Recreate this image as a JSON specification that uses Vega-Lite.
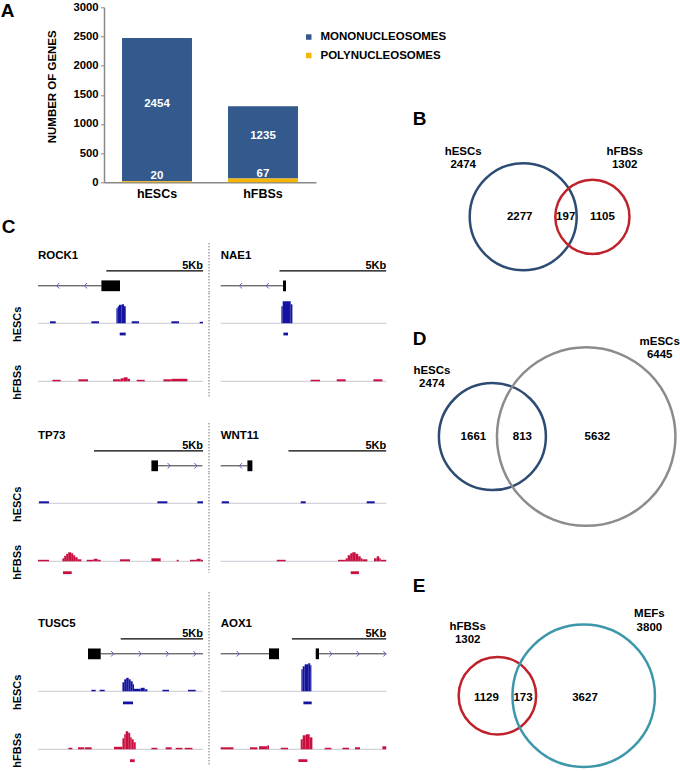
{
"$schema":"https://vega.github.io/schema/vega-lite/v6.json",
"padding":{"left":0,"top":1.3,"right":0,"bottom":0},
"config":{"font":"Liberation Sans","view":{"stroke":null}},
"datasets":{
"panels":[{"panel":"A"},{"panel":"B"},{"panel":"C"},{"panel":"D"},{"panel":"E"}],
"bars":[{"cell":"hESCs","type":"MONONUCLEOSOMES","n":2454},{"cell":"hESCs","type":"POLYNUCLEOSOMES","n":20},{"cell":"hFBSs","type":"MONONUCLEOSOMES","n":1235},{"cell":"hFBSs","type":"POLYNUCLEOSOMES","n":67}],
"genes":[{"gene":"ROCK1"},{"gene":"NAE1"},{"gene":"TP73"},{"gene":"WNT11"},{"gene":"TUSC5"},{"gene":"AOX1"}],
"model":[
{"gene":"ROCK1","feature":"intron","start":0,"end":3.278},{"gene":"ROCK1","feature":"exon","start":3.278,"end":4.24},
{"gene":"NAE1","feature":"intron","start":0,"end":2.966},{"gene":"NAE1","feature":"exon","start":2.92,"end":3.06},
{"gene":"TP73","feature":"exon","start":5.202,"end":5.504},{"gene":"TP73","feature":"intron","start":5.504,"end":7.541},
{"gene":"WNT11","feature":"intron","start":0,"end":1.367},{"gene":"WNT11","feature":"exon","start":1.367,"end":1.622},
{"gene":"TUSC5","feature":"exon","start":3.038,"end":3.809},{"gene":"TUSC5","feature":"intron","start":3.809,"end":10.024},
{"gene":"AOX1","feature":"intron","start":0,"end":2.561},{"gene":"AOX1","feature":"exon","start":2.561,"end":3.091},{"gene":"AOX1","feature":"exon","start":5.037,"end":5.212},{"gene":"AOX1","feature":"intron","start":5.212,"end":8.775}],
"arrows":[
{"gene":"ROCK1","pos":1.034,"strand":"-"},{"gene":"ROCK1","pos":2.467,"strand":"-"},
{"gene":"NAE1","pos":0.937,"strand":"-"},{"gene":"NAE1","pos":2.188,"strand":"-"},
{"gene":"TP73","pos":6.009,"strand":"+"},{"gene":"TP73","pos":7.234,"strand":"+"},
{"gene":"WNT11","pos":1.024,"strand":"-"},
{"gene":"TUSC5","pos":4.52,"strand":"+"},{"gene":"TUSC5","pos":6.197,"strand":"+"},{"gene":"TUSC5","pos":7.861,"strand":"+"},{"gene":"TUSC5","pos":9.52,"strand":"+"},
{"gene":"AOX1","pos":0.917,"strand":"+"},{"gene":"AOX1","pos":5.832,"strand":"+"},{"gene":"AOX1","pos":7.28,"strand":"+"},{"gene":"AOX1","pos":8.695,"strand":"+"}],
"signal":[
{"gene":"ROCK1","cell":"hESCs","start":0.62,"end":0.915,"v":2},{"gene":"ROCK1","cell":"hESCs","start":2.761,"end":3.154,"v":2},{"gene":"ROCK1","cell":"hESCs","start":4.054,"end":4.121,"v":15},{"gene":"ROCK1","cell":"hESCs","start":4.121,"end":4.189,"v":17},{"gene":"ROCK1","cell":"hESCs","start":4.189,"end":4.328,"v":18.5},{"gene":"ROCK1","cell":"hESCs","start":4.328,"end":4.447,"v":19},{"gene":"ROCK1","cell":"hESCs","start":4.447,"end":4.535,"v":17},{"gene":"ROCK1","cell":"hESCs","start":4.845,"end":5.223,"v":2},{"gene":"ROCK1","cell":"hESCs","start":6.898,"end":7.291,"v":2},{"gene":"ROCK1","cell":"hESCs","start":8.361,"end":8.532,"v":1.5},
{"gene":"ROCK1","cell":"hFBSs","start":0.745,"end":1.174,"v":1.5},{"gene":"ROCK1","cell":"hFBSs","start":2.089,"end":2.586,"v":2},{"gene":"ROCK1","cell":"hFBSs","start":3.878,"end":4.276,"v":2},{"gene":"ROCK1","cell":"hFBSs","start":4.276,"end":4.432,"v":3},{"gene":"ROCK1","cell":"hFBSs","start":4.432,"end":4.638,"v":4},{"gene":"ROCK1","cell":"hFBSs","start":4.638,"end":4.757,"v":2.5},{"gene":"ROCK1","cell":"hFBSs","start":5.104,"end":5.518,"v":1.5},{"gene":"ROCK1","cell":"hFBSs","start":6.484,"end":6.898,"v":2},{"gene":"ROCK1","cell":"hFBSs","start":6.898,"end":7.725,"v":2.5},
{"gene":"NAE1","cell":"hESCs","start":2.844,"end":2.905,"v":17},{"gene":"NAE1","cell":"hESCs","start":2.905,"end":3.28,"v":22},{"gene":"NAE1","cell":"hESCs","start":3.28,"end":3.36,"v":19},
{"gene":"NAE1","cell":"hFBSs","start":4.217,"end":4.653,"v":1.5},{"gene":"NAE1","cell":"hFBSs","start":5.436,"end":5.858,"v":2},{"gene":"NAE1","cell":"hFBSs","start":7.156,"end":7.577,"v":2},
{"gene":"TP73","cell":"hESCs","start":0.046,"end":0.505,"v":2},{"gene":"TP73","cell":"hESCs","start":5.477,"end":5.936,"v":2},{"gene":"TP73","cell":"hESCs","start":7.312,"end":7.569,"v":2},
{"gene":"TP73","cell":"hFBSs","start":0,"end":0.505,"v":1.5},{"gene":"TP73","cell":"hFBSs","start":1.119,"end":1.202,"v":3},{"gene":"TP73","cell":"hFBSs","start":1.202,"end":1.294,"v":5.5},{"gene":"TP73","cell":"hFBSs","start":1.294,"end":1.385,"v":7.5},{"gene":"TP73","cell":"hFBSs","start":1.385,"end":1.523,"v":9},{"gene":"TP73","cell":"hFBSs","start":1.523,"end":1.615,"v":8},{"gene":"TP73","cell":"hFBSs","start":1.615,"end":1.706,"v":6},{"gene":"TP73","cell":"hFBSs","start":1.706,"end":1.821,"v":4},{"gene":"TP73","cell":"hFBSs","start":1.821,"end":1.991,"v":2},{"gene":"TP73","cell":"hFBSs","start":2.234,"end":2.555,"v":1.5},{"gene":"TP73","cell":"hFBSs","start":2.555,"end":2.738,"v":2.5},{"gene":"TP73","cell":"hFBSs","start":2.738,"end":2.876,"v":1.5},{"gene":"TP73","cell":"hFBSs","start":3.761,"end":4.22,"v":2},{"gene":"TP73","cell":"hFBSs","start":5.202,"end":5.628,"v":3},{"gene":"TP73","cell":"hFBSs","start":6.362,"end":6.454,"v":1.5},{"gene":"TP73","cell":"hFBSs","start":6.972,"end":7.28,"v":1.5},{"gene":"TP73","cell":"hFBSs","start":7.28,"end":7.463,"v":2.5},{"gene":"TP73","cell":"hFBSs","start":7.463,"end":7.569,"v":1.5},
{"gene":"WNT11","cell":"hESCs","start":0.051,"end":0.425,"v":2},{"gene":"WNT11","cell":"hESCs","start":4.094,"end":4.35,"v":2},{"gene":"WNT11","cell":"hESCs","start":7.472,"end":7.882,"v":2},
{"gene":"WNT11","cell":"hFBSs","start":2.866,"end":3.327,"v":1.5},{"gene":"WNT11","cell":"hFBSs","start":6.003,"end":6.398,"v":1.5},{"gene":"WNT11","cell":"hFBSs","start":6.398,"end":6.5,"v":3},{"gene":"WNT11","cell":"hFBSs","start":6.5,"end":6.628,"v":6},{"gene":"WNT11","cell":"hFBSs","start":6.628,"end":6.73,"v":8},{"gene":"WNT11","cell":"hFBSs","start":6.73,"end":6.909,"v":9},{"gene":"WNT11","cell":"hFBSs","start":6.909,"end":7.037,"v":7.5},{"gene":"WNT11","cell":"hFBSs","start":7.037,"end":7.165,"v":5},{"gene":"WNT11","cell":"hFBSs","start":7.165,"end":7.252,"v":3},{"gene":"WNT11","cell":"hFBSs","start":7.252,"end":7.508,"v":2},{"gene":"WNT11","cell":"hFBSs","start":7.846,"end":7.984,"v":3},{"gene":"WNT11","cell":"hFBSs","start":7.984,"end":8.112,"v":5},{"gene":"WNT11","cell":"hFBSs","start":8.112,"end":8.189,"v":3},{"gene":"WNT11","cell":"hFBSs","start":8.189,"end":8.47,"v":1.5},
{"gene":"TUSC5","cell":"hESCs","start":3.244,"end":3.505,"v":1.5},{"gene":"TUSC5","cell":"hESCs","start":3.748,"end":4.052,"v":1.5},{"gene":"TUSC5","cell":"hESCs","start":5.127,"end":5.237,"v":9},{"gene":"TUSC5","cell":"hESCs","start":5.237,"end":5.358,"v":12},{"gene":"TUSC5","cell":"hESCs","start":5.358,"end":5.51,"v":13.5},{"gene":"TUSC5","cell":"hESCs","start":5.51,"end":5.632,"v":12},{"gene":"TUSC5","cell":"hESCs","start":5.632,"end":5.753,"v":10},{"gene":"TUSC5","cell":"hESCs","start":5.753,"end":5.832,"v":7},{"gene":"TUSC5","cell":"hESCs","start":5.832,"end":6.239,"v":2.5},{"gene":"TUSC5","cell":"hESCs","start":6.239,"end":6.482,"v":3.5},{"gene":"TUSC5","cell":"hESCs","start":6.482,"end":6.646,"v":2},{"gene":"TUSC5","cell":"hESCs","start":7.557,"end":7.958,"v":1.5},{"gene":"TUSC5","cell":"hESCs","start":9.113,"end":9.58,"v":1.5},
{"gene":"TUSC5","cell":"hFBSs","start":1.847,"end":2.09,"v":1.5},{"gene":"TUSC5","cell":"hFBSs","start":2.43,"end":2.795,"v":2},{"gene":"TUSC5","cell":"hFBSs","start":2.837,"end":3.262,"v":2},{"gene":"TUSC5","cell":"hFBSs","start":4.617,"end":5.127,"v":2.5},{"gene":"TUSC5","cell":"hFBSs","start":5.127,"end":5.237,"v":11},{"gene":"TUSC5","cell":"hFBSs","start":5.237,"end":5.328,"v":15},{"gene":"TUSC5","cell":"hFBSs","start":5.328,"end":5.48,"v":18},{"gene":"TUSC5","cell":"hFBSs","start":5.48,"end":5.601,"v":16.5},{"gene":"TUSC5","cell":"hFBSs","start":5.601,"end":5.692,"v":12},{"gene":"TUSC5","cell":"hFBSs","start":5.692,"end":5.814,"v":10},{"gene":"TUSC5","cell":"hFBSs","start":5.814,"end":5.935,"v":7},{"gene":"TUSC5","cell":"hFBSs","start":6.889,"end":7.254,"v":1.5},{"gene":"TUSC5","cell":"hFBSs","start":7.758,"end":8.122,"v":2},{"gene":"TUSC5","cell":"hFBSs","start":8.365,"end":8.772,"v":1.5},{"gene":"TUSC5","cell":"hFBSs","start":8.912,"end":9.38,"v":1.5},
{"gene":"AOX1","cell":"hESCs","start":4.279,"end":4.348,"v":22},{"gene":"AOX1","cell":"hESCs","start":4.348,"end":4.454,"v":25},{"gene":"AOX1","cell":"hESCs","start":4.454,"end":4.639,"v":27},{"gene":"AOX1","cell":"hESCs","start":4.639,"end":4.745,"v":28},{"gene":"AOX1","cell":"hESCs","start":4.745,"end":4.809,"v":26},
{"gene":"AOX1","cell":"hFBSs","start":0,"end":0.673,"v":2},{"gene":"AOX1","cell":"hFBSs","start":1.553,"end":1.946,"v":2},{"gene":"AOX1","cell":"hFBSs","start":2.031,"end":2.476,"v":3},{"gene":"AOX1","cell":"hFBSs","start":2.476,"end":2.561,"v":4},{"gene":"AOX1","cell":"hFBSs","start":3.181,"end":3.568,"v":1.5},{"gene":"AOX1","cell":"hFBSs","start":4.242,"end":4.348,"v":10},{"gene":"AOX1","cell":"hFBSs","start":4.348,"end":4.507,"v":14},{"gene":"AOX1","cell":"hFBSs","start":4.507,"end":4.719,"v":15},{"gene":"AOX1","cell":"hFBSs","start":4.719,"end":4.862,"v":12},{"gene":"AOX1","cell":"hFBSs","start":5.514,"end":5.869,"v":1.5},{"gene":"AOX1","cell":"hFBSs","start":6.453,"end":6.802,"v":1.5},{"gene":"AOX1","cell":"hFBSs","start":7.121,"end":7.386,"v":2},{"gene":"AOX1","cell":"hFBSs","start":8.573,"end":8.775,"v":3}],
"peaks":[
{"gene":"ROCK1","cell":"hESCs","start":4.225,"end":4.535},{"gene":"NAE1","cell":"hESCs","start":2.938,"end":3.154},{"gene":"TP73","cell":"hFBSs","start":1.147,"end":1.546},{"gene":"WNT11","cell":"hFBSs","start":6.653,"end":7.078},{"gene":"TUSC5","cell":"hESCs","start":5.164,"end":5.771},{"gene":"TUSC5","cell":"hFBSs","start":5.589,"end":5.875},{"gene":"AOX1","cell":"hESCs","start":4.385,"end":4.825},{"gene":"AOX1","cell":"hFBSs","start":4.12,"end":4.597}],
"vsets":[
{"panel":"B","set":"hESCs","n":2474,"cx":122.5,"cy":209.5,"lx":62.5,"ly":151.4},{"panel":"B","set":"hFBSs","n":1302,"cx":191.7,"cy":209.5,"lx":224,"ly":151.4},
{"panel":"D","set":"hESCs","n":2474,"cx":91.7,"cy":146.3,"lx":31.2,"ly":87.5},{"panel":"D","set":"mESCs","n":6445,"cx":185.5,"cy":146.3,"lx":259,"ly":58.3},
{"panel":"E","set":"hFBSs","n":1302,"cx":96.7,"cy":155.4,"lx":67,"ly":93.3},{"panel":"E","set":"MEFs","n":3800,"cx":183,"cy":155.4,"lx":248.7,"ly":80.7}],
"vregions":[
{"panel":"B","n":2277,"x":119,"y":210},{"panel":"B","n":197,"x":165,"y":210},{"panel":"B","n":1105,"x":201.7,"y":210},
{"panel":"D","n":1661,"x":72.7,"y":146.7},{"panel":"D","n":813,"x":121.7,"y":146.7},{"panel":"D","n":5632,"x":196.7,"y":146.7},
{"panel":"E","n":1129,"x":85.7,"y":157.3},{"panel":"E","n":173,"x":122.3,"y":157.3},{"panel":"E","n":3627,"x":184.3,"y":157.3}]
},
"hconcat":[
{"vconcat":[
 {"hconcat":[
  {"width":65.7,"height":175,"data":{"name":"panels"},"transform":[{"filter":"datum.panel=='A'"}],"mark":{"type":"text","align":"left","baseline":"alphabetic","fontSize":19,"fontWeight":"bold","color":"#000"},"encoding":{"x":{"datum":-37.3,"type":"quantitative","scale":{"domain":[0,65.7],"nice":false,"zero":false},"axis":null},"y":{"datum":9.7,"type":"quantitative","scale":{"domain":[0,175],"nice":false,"zero":false,"reverse":true},"axis":null},"text":{"field":"panel"}}},
  {"width":212,"height":175,
   "data":{"name":"bars"},
   "layer":[
    {"mark":{"type":"bar"},
     "encoding":{
      "x":{"field":"cell","type":"nominal","sort":["hESCs","hFBSs"],"scale":{"paddingInner":0.34,"paddingOuter":0.17},"axis":{"title":null,"labelAngle":0,"labelFontSize":12.5,"labelFontWeight":"bold","labelColor":"#000","ticks":false,"tickSize":0,"labelPadding":5,"domainColor":"#888","domainWidth":1.5}},
      "y":{"field":"n","type":"quantitative","stack":"zero","scale":{"domain":[0,3000],"nice":false},"axis":{"title":"NUMBER OF GENES","format":"d","values":[0,500,1000,1500,2000,2500,3000],"grid":false,"labelFontSize":11.3,"labelFontWeight":"bold","labelColor":"#000","labelPadding":2.5,"tickSize":3.5,"tickColor":"#888","domainColor":"#888","domainWidth":1.5,"titleFontSize":11.5,"titleFontWeight":"bold","titleColor":"#000","titleAngle":-90,"titleX":-52,"titleY":79,"titleAlign":"center","titleBaseline":"middle"}},
      "color":{"field":"type","type":"nominal","scale":{"domain":["MONONUCLEOSOMES","POLYNUCLEOSOMES"],"range":["#33598d","#f6b500"]},"legend":{"title":null,"orient":"none","legendX":199,"legendY":24,"symbolType":"square","symbolSize":30,"symbolStrokeWidth":0,"labelFontSize":11.5,"labelFontWeight":"bold","labelColor":"#000","labelOffset":6,"rowPadding":5.5,"padding":0}},
      "order":{"field":"type","sort":"descending"}}},
    {"transform":[
      {"stack":"n","groupby":["cell"],"sort":[{"field":"type","order":"descending"}],"as":["s0","s1"]},
      {"fold":["s0","s1"],"as":["edge","pos"]},
      {"aggregate":[{"op":"mean","field":"pos","as":"mid"},{"op":"max","field":"n","as":"n"}],"groupby":["cell","type"]}],
     "mark":{"type":"text","color":"#fff","fontWeight":"bold","fontSize":11.5,"dy":-6},
     "encoding":{
      "x":{"field":"cell","type":"nominal","sort":["hESCs","hFBSs"],"scale":{"paddingInner":0.34,"paddingOuter":0.17},"axis":{"title":null,"labelAngle":0,"labelFontSize":12.5,"labelFontWeight":"bold","labelColor":"#000","ticks":false,"tickSize":0,"labelPadding":5,"domainColor":"#888","domainWidth":1.5}},
      "y":{"field":"mid","type":"quantitative","scale":{"domain":[0,3000],"nice":false},"axis":{"title":"NUMBER OF GENES","format":"d","values":[0,500,1000,1500,2000,2500,3000],"grid":false,"labelFontSize":11.3,"labelFontWeight":"bold","labelColor":"#000","labelPadding":2.5,"tickSize":3.5,"tickColor":"#888","domainColor":"#888","domainWidth":1.5,"titleFontSize":11.5,"titleFontWeight":"bold","titleColor":"#000","titleAngle":-90,"titleX":-52,"titleY":79,"titleAlign":"center","titleBaseline":"middle"}},
      "text":{"field":"n","type":"quantitative"}}}
   ]}
 ],"spacing":0,"bounds":"flush","resolve":{"scale":{"color":"independent"}}},
 {"vconcat":[
  {"hconcat":[
   {"vconcat":[
    {"width":165,"height":45,"layer":[
     {"data":{"name":"panels"},"transform":[{"filter":"datum.panel=='C'"}],"mark":{"type":"text","align":"left","baseline":"alphabetic","fontSize":19,"fontWeight":"bold","color":"#000"},"encoding":{"x":{"datum":-1.877,"type":"quantitative","scale":{"domain":[0,8.532],"nice":false,"zero":false},"axis":null},"y":{"datum":4.033,"type":"quantitative","scale":{"domain":[0,3],"nice":false,"zero":false},"axis":null},"text":{"field":"panel"}}},
     {"data":{"name":"genes"},"transform":[{"filter":"datum.gene=='ROCK1'"}],"mark":{"type":"text","align":"left","baseline":"middle","fontWeight":"bold","fontSize":11.5,"color":"#000"},"encoding":{"x":{"datum":0,"type":"quantitative","scale":{"domain":[0,8.532],"nice":false,"zero":false},"axis":null},"y":{"datum":2.5,"type":"quantitative","scale":{"domain":[0,3],"nice":false,"zero":false},"axis":null},"text":{"field":"gene"}}},
     {"data":{"name":"genes"},"transform":[{"filter":"datum.gene=='ROCK1'"}],"mark":{"type":"rule","color":"#000","strokeWidth":1.3},"encoding":{"x":{"datum":3.532,"type":"quantitative","scale":{"domain":[0,8.532],"nice":false,"zero":false},"axis":null},"x2":{"datum":8.532},"y":{"datum":1.5,"type":"quantitative","scale":{"domain":[0,3],"nice":false,"zero":false},"axis":null}}},
     {"data":{"name":"genes"},"transform":[{"filter":"datum.gene=='ROCK1'"}],"mark":{"type":"text","text":"5Kb","align":"right","baseline":"alphabetic","dy":-1.5,"fontWeight":"bold","fontSize":11,"color":"#000"},"encoding":{"x":{"datum":8.532,"type":"quantitative","scale":{"domain":[0,8.532],"nice":false,"zero":false},"axis":null},"y":{"datum":1.5,"type":"quantitative","scale":{"domain":[0,3],"nice":false,"zero":false},"axis":null}}},
     {"data":{"name":"model"},"transform":[{"filter":"datum.gene=='ROCK1'&&datum.feature=='intron'"}],"mark":{"type":"rule","color":"#333","strokeWidth":1},"encoding":{"x":{"field":"start","type":"quantitative","scale":{"domain":[0,8.532],"nice":false,"zero":false},"axis":null},"x2":{"field":"end"},"y":{"datum":0.5,"type":"quantitative","scale":{"domain":[0,3],"nice":false,"zero":false},"axis":null}}},
     {"data":{"name":"model"},"transform":[{"filter":"datum.gene=='ROCK1'&&datum.feature=='exon'"}],"mark":{"type":"rect","color":"#000"},"encoding":{"x":{"field":"start","type":"quantitative","scale":{"domain":[0,8.532],"nice":false,"zero":false},"axis":null},"x2":{"field":"end"},"y":{"datum":0.14,"type":"quantitative","scale":{"domain":[0,3],"nice":false,"zero":false},"axis":null},"y2":{"datum":0.86}}},
     {"data":{"name":"arrows"},"transform":[{"filter":"datum.gene=='ROCK1'"}],"mark":{"type":"point","filled":false,"strokeWidth":1,"size":30,"color":"#5a5ad2","opacity":1},"encoding":{"x":{"field":"pos","type":"quantitative","scale":{"domain":[0,8.532],"nice":false,"zero":false},"axis":null},"y":{"datum":0.5,"type":"quantitative","scale":{"domain":[0,3],"nice":false,"zero":false},"axis":null},"shape":{"field":"strand","type":"nominal","scale":{"domain":["-","+"],"range":["M0.5,-1L-0.5,0L0.5,1","M-0.5,-1L0.5,0L-0.5,1"]},"legend":null}}}
    ]},
    {"width":165,"height":44.5,"layer":[
     {"data":{"name":"genes"},"transform":[{"filter":"datum.gene=='ROCK1'"}],"mark":{"type":"rule","color":"#c8c8d2","strokeWidth":1},"encoding":{"y":{"datum":0,"type":"quantitative","scale":{"domain":[-14.5,30],"nice":false,"zero":false},"axis":{"title":"hESCs","labels":false,"ticks":false,"domain":false,"grid":false,"titleAngle":-90,"titleX":-20.6,"titleY":30.5,"titleAlign":"center","titleBaseline":"middle","titleFontSize":11,"titleFontWeight":"bold","titleColor":"#000"}}}},
     {"data":{"name":"signal"},"transform":[{"filter":"datum.gene=='ROCK1'&&datum.cell=='hESCs'"}],"mark":{"type":"rect","color":"#1414a0"},"encoding":{"x":{"field":"start","type":"quantitative","scale":{"domain":[0,8.532],"nice":false,"zero":false},"axis":null},"x2":{"field":"end"},"y":{"field":"v","type":"quantitative","scale":{"domain":[-14.5,30],"nice":false,"zero":false},"axis":{"title":"hESCs","labels":false,"ticks":false,"domain":false,"grid":false,"titleAngle":-90,"titleX":-20.6,"titleY":30.5,"titleAlign":"center","titleBaseline":"middle","titleFontSize":11,"titleFontWeight":"bold","titleColor":"#000"}},"y2":{"datum":0}}},
     {"data":{"name":"peaks"},"transform":[{"filter":"datum.gene=='ROCK1'&&datum.cell=='hESCs'"}],"mark":{"type":"rect","color":"#1414a0"},"encoding":{"x":{"field":"start","type":"quantitative","scale":{"domain":[0,8.532],"nice":false,"zero":false},"axis":null},"x2":{"field":"end"},"y":{"datum":-9.3,"type":"quantitative","scale":{"domain":[-14.5,30],"nice":false,"zero":false},"axis":{"title":"hESCs","labels":false,"ticks":false,"domain":false,"grid":false,"titleAngle":-90,"titleX":-20.6,"titleY":30.5,"titleAlign":"center","titleBaseline":"middle","titleFontSize":11,"titleFontWeight":"bold","titleColor":"#000"}},"y2":{"datum":-12.1}}}
    ]},
    {"width":165,"height":58,"layer":[
     {"data":{"name":"genes"},"transform":[{"filter":"datum.gene=='ROCK1'"}],"mark":{"type":"rule","color":"#c8c8d2","strokeWidth":1},"encoding":{"y":{"datum":0,"type":"quantitative","scale":{"domain":[-15,43],"nice":false,"zero":false},"axis":{"title":"hFBSs","labels":false,"ticks":false,"domain":false,"grid":false,"titleAngle":-90,"titleX":-20.6,"titleY":43.5,"titleAlign":"center","titleBaseline":"middle","titleFontSize":11,"titleFontWeight":"bold","titleColor":"#000"}}}},
     {"data":{"name":"signal"},"transform":[{"filter":"datum.gene=='ROCK1'&&datum.cell=='hFBSs'"}],"mark":{"type":"rect","color":"#c80f3f"},"encoding":{"x":{"field":"start","type":"quantitative","scale":{"domain":[0,8.532],"nice":false,"zero":false},"axis":null},"x2":{"field":"end"},"y":{"field":"v","type":"quantitative","scale":{"domain":[-15,43],"nice":false,"zero":false},"axis":{"title":"hFBSs","labels":false,"ticks":false,"domain":false,"grid":false,"titleAngle":-90,"titleX":-20.6,"titleY":43.5,"titleAlign":"center","titleBaseline":"middle","titleFontSize":11,"titleFontWeight":"bold","titleColor":"#000"}},"y2":{"datum":0}}}
    ]}
   ],"spacing":0,"bounds":"flush"},
   {"vconcat":[
    {"width":165.5,"height":45,"layer":[
     {"data":{"name":"genes"},"transform":[{"filter":"datum.gene=='NAE1'"}],"mark":{"type":"rule","color":"#333","strokeWidth":1,"strokeDash":[1,2]},"encoding":{"x":{"datum":-0.548,"type":"quantitative","scale":{"domain":[0,7.755],"nice":false,"zero":false},"axis":null},"y":{"datum":3.333,"type":"quantitative","scale":{"domain":[0,3],"nice":false,"zero":false},"axis":null},"y2":{"datum":0}}},
     {"data":{"name":"genes"},"transform":[{"filter":"datum.gene=='NAE1'"}],"mark":{"type":"text","align":"left","baseline":"middle","fontWeight":"bold","fontSize":11.5,"color":"#000"},"encoding":{"x":{"datum":0,"type":"quantitative","scale":{"domain":[0,7.755],"nice":false,"zero":false},"axis":null},"y":{"datum":2.5,"type":"quantitative","scale":{"domain":[0,3],"nice":false,"zero":false},"axis":null},"text":{"field":"gene"}}},
     {"data":{"name":"genes"},"transform":[{"filter":"datum.gene=='NAE1'"}],"mark":{"type":"rule","color":"#000","strokeWidth":1.3},"encoding":{"x":{"datum":2.755,"type":"quantitative","scale":{"domain":[0,7.755],"nice":false,"zero":false},"axis":null},"x2":{"datum":7.755},"y":{"datum":1.5,"type":"quantitative","scale":{"domain":[0,3],"nice":false,"zero":false},"axis":null}}},
     {"data":{"name":"genes"},"transform":[{"filter":"datum.gene=='NAE1'"}],"mark":{"type":"text","text":"5Kb","align":"right","baseline":"alphabetic","dy":-1.5,"fontWeight":"bold","fontSize":11,"color":"#000"},"encoding":{"x":{"datum":7.755,"type":"quantitative","scale":{"domain":[0,7.755],"nice":false,"zero":false},"axis":null},"y":{"datum":1.5,"type":"quantitative","scale":{"domain":[0,3],"nice":false,"zero":false},"axis":null}}},
     {"data":{"name":"model"},"transform":[{"filter":"datum.gene=='NAE1'&&datum.feature=='intron'"}],"mark":{"type":"rule","color":"#333","strokeWidth":1},"encoding":{"x":{"field":"start","type":"quantitative","scale":{"domain":[0,7.755],"nice":false,"zero":false},"axis":null},"x2":{"field":"end"},"y":{"datum":0.5,"type":"quantitative","scale":{"domain":[0,3],"nice":false,"zero":false},"axis":null}}},
     {"data":{"name":"model"},"transform":[{"filter":"datum.gene=='NAE1'&&datum.feature=='exon'"}],"mark":{"type":"rect","color":"#000"},"encoding":{"x":{"field":"start","type":"quantitative","scale":{"domain":[0,7.755],"nice":false,"zero":false},"axis":null},"x2":{"field":"end"},"y":{"datum":0.14,"type":"quantitative","scale":{"domain":[0,3],"nice":false,"zero":false},"axis":null},"y2":{"datum":0.86}}},
     {"data":{"name":"arrows"},"transform":[{"filter":"datum.gene=='NAE1'"}],"mark":{"type":"point","filled":false,"strokeWidth":1,"size":30,"color":"#5a5ad2","opacity":1},"encoding":{"x":{"field":"pos","type":"quantitative","scale":{"domain":[0,7.755],"nice":false,"zero":false},"axis":null},"y":{"datum":0.5,"type":"quantitative","scale":{"domain":[0,3],"nice":false,"zero":false},"axis":null},"shape":{"field":"strand","type":"nominal","scale":{"domain":["-","+"],"range":["M0.5,-1L-0.5,0L0.5,1","M-0.5,-1L0.5,0L-0.5,1"]},"legend":null}}}
    ]},
    {"width":165.5,"height":44.5,"layer":[
     {"data":{"name":"genes"},"transform":[{"filter":"datum.gene=='NAE1'"}],"mark":{"type":"rule","color":"#333","strokeWidth":1,"strokeDash":[1,2]},"encoding":{"x":{"datum":-0.548,"type":"quantitative","scale":{"domain":[0,7.755],"nice":false,"zero":false},"axis":null}}},
     {"data":{"name":"genes"},"transform":[{"filter":"datum.gene=='NAE1'"}],"mark":{"type":"rule","color":"#c8c8d2","strokeWidth":1},"encoding":{"y":{"datum":0,"type":"quantitative","scale":{"domain":[-14.5,30],"nice":false,"zero":false},"axis":null}}},
     {"data":{"name":"signal"},"transform":[{"filter":"datum.gene=='NAE1'&&datum.cell=='hESCs'"}],"mark":{"type":"rect","color":"#1414a0"},"encoding":{"x":{"field":"start","type":"quantitative","scale":{"domain":[0,7.755],"nice":false,"zero":false},"axis":null},"x2":{"field":"end"},"y":{"field":"v","type":"quantitative","scale":{"domain":[-14.5,30],"nice":false,"zero":false},"axis":null},"y2":{"datum":0}}},
     {"data":{"name":"peaks"},"transform":[{"filter":"datum.gene=='NAE1'&&datum.cell=='hESCs'"}],"mark":{"type":"rect","color":"#1414a0"},"encoding":{"x":{"field":"start","type":"quantitative","scale":{"domain":[0,7.755],"nice":false,"zero":false},"axis":null},"x2":{"field":"end"},"y":{"datum":-9.3,"type":"quantitative","scale":{"domain":[-14.5,30],"nice":false,"zero":false},"axis":null},"y2":{"datum":-12.1}}}
    ]},
    {"width":165.5,"height":58,"layer":[
     {"data":{"name":"genes"},"transform":[{"filter":"datum.gene=='NAE1'"}],"mark":{"type":"rule","color":"#333","strokeWidth":1,"strokeDash":[1,2]},"encoding":{"x":{"datum":-0.548,"type":"quantitative","scale":{"domain":[0,7.755],"nice":false,"zero":false},"axis":null}}},
     {"data":{"name":"genes"},"transform":[{"filter":"datum.gene=='NAE1'"}],"mark":{"type":"rule","color":"#c8c8d2","strokeWidth":1},"encoding":{"y":{"datum":0,"type":"quantitative","scale":{"domain":[-15,43],"nice":false,"zero":false},"axis":null}}},
     {"data":{"name":"signal"},"transform":[{"filter":"datum.gene=='NAE1'&&datum.cell=='hFBSs'"}],"mark":{"type":"rect","color":"#c80f3f"},"encoding":{"x":{"field":"start","type":"quantitative","scale":{"domain":[0,7.755],"nice":false,"zero":false},"axis":null},"x2":{"field":"end"},"y":{"field":"v","type":"quantitative","scale":{"domain":[-15,43],"nice":false,"zero":false},"axis":null},"y2":{"datum":0}}}
    ]}
   ],"spacing":0,"bounds":"flush"}
  ],"spacing":182.7,"bounds":"flush"},
  {"hconcat":[
   {"vconcat":[
    {"width":165,"height":45,"layer":[
     {"data":{"name":"genes"},"transform":[{"filter":"datum.gene=='TP73'"}],"mark":{"type":"text","align":"left","baseline":"middle","fontWeight":"bold","fontSize":11.5,"color":"#000"},"encoding":{"x":{"datum":0,"type":"quantitative","scale":{"domain":[0,7.569],"nice":false,"zero":false},"axis":null},"y":{"datum":2.5,"type":"quantitative","scale":{"domain":[0,3],"nice":false,"zero":false},"axis":null},"text":{"field":"gene"}}},
     {"data":{"name":"genes"},"transform":[{"filter":"datum.gene=='TP73'"}],"mark":{"type":"rule","color":"#000","strokeWidth":1.3},"encoding":{"x":{"datum":2.569,"type":"quantitative","scale":{"domain":[0,7.569],"nice":false,"zero":false},"axis":null},"x2":{"datum":7.569},"y":{"datum":1.5,"type":"quantitative","scale":{"domain":[0,3],"nice":false,"zero":false},"axis":null}}},
     {"data":{"name":"genes"},"transform":[{"filter":"datum.gene=='TP73'"}],"mark":{"type":"text","text":"5Kb","align":"right","baseline":"alphabetic","dy":-1.5,"fontWeight":"bold","fontSize":11,"color":"#000"},"encoding":{"x":{"datum":7.569,"type":"quantitative","scale":{"domain":[0,7.569],"nice":false,"zero":false},"axis":null},"y":{"datum":1.5,"type":"quantitative","scale":{"domain":[0,3],"nice":false,"zero":false},"axis":null}}},
     {"data":{"name":"model"},"transform":[{"filter":"datum.gene=='TP73'&&datum.feature=='intron'"}],"mark":{"type":"rule","color":"#333","strokeWidth":1},"encoding":{"x":{"field":"start","type":"quantitative","scale":{"domain":[0,7.569],"nice":false,"zero":false},"axis":null},"x2":{"field":"end"},"y":{"datum":0.5,"type":"quantitative","scale":{"domain":[0,3],"nice":false,"zero":false},"axis":null}}},
     {"data":{"name":"model"},"transform":[{"filter":"datum.gene=='TP73'&&datum.feature=='exon'"}],"mark":{"type":"rect","color":"#000"},"encoding":{"x":{"field":"start","type":"quantitative","scale":{"domain":[0,7.569],"nice":false,"zero":false},"axis":null},"x2":{"field":"end"},"y":{"datum":0.14,"type":"quantitative","scale":{"domain":[0,3],"nice":false,"zero":false},"axis":null},"y2":{"datum":0.86}}},
     {"data":{"name":"arrows"},"transform":[{"filter":"datum.gene=='TP73'"}],"mark":{"type":"point","filled":false,"strokeWidth":1,"size":30,"color":"#5a5ad2","opacity":1},"encoding":{"x":{"field":"pos","type":"quantitative","scale":{"domain":[0,7.569],"nice":false,"zero":false},"axis":null},"y":{"datum":0.5,"type":"quantitative","scale":{"domain":[0,3],"nice":false,"zero":false},"axis":null},"shape":{"field":"strand","type":"nominal","scale":{"domain":["-","+"],"range":["M0.5,-1L-0.5,0L0.5,1","M-0.5,-1L0.5,0L-0.5,1"]},"legend":null}}}
    ]},
    {"width":165,"height":44.5,"layer":[
     {"data":{"name":"genes"},"transform":[{"filter":"datum.gene=='TP73'"}],"mark":{"type":"rule","color":"#c8c8d2","strokeWidth":1},"encoding":{"y":{"datum":0,"type":"quantitative","scale":{"domain":[-14.5,30],"nice":false,"zero":false},"axis":{"title":"hESCs","labels":false,"ticks":false,"domain":false,"grid":false,"titleAngle":-90,"titleX":-20.6,"titleY":30.5,"titleAlign":"center","titleBaseline":"middle","titleFontSize":11,"titleFontWeight":"bold","titleColor":"#000"}}}},
     {"data":{"name":"signal"},"transform":[{"filter":"datum.gene=='TP73'&&datum.cell=='hESCs'"}],"mark":{"type":"rect","color":"#1414a0"},"encoding":{"x":{"field":"start","type":"quantitative","scale":{"domain":[0,7.569],"nice":false,"zero":false},"axis":null},"x2":{"field":"end"},"y":{"field":"v","type":"quantitative","scale":{"domain":[-14.5,30],"nice":false,"zero":false},"axis":{"title":"hESCs","labels":false,"ticks":false,"domain":false,"grid":false,"titleAngle":-90,"titleX":-20.6,"titleY":30.5,"titleAlign":"center","titleBaseline":"middle","titleFontSize":11,"titleFontWeight":"bold","titleColor":"#000"}},"y2":{"datum":0}}}
    ]},
    {"width":165,"height":66,"layer":[
     {"data":{"name":"genes"},"transform":[{"filter":"datum.gene=='TP73'"}],"mark":{"type":"rule","color":"#c8c8d2","strokeWidth":1},"encoding":{"y":{"datum":0,"type":"quantitative","scale":{"domain":[-23,43],"nice":false,"zero":false},"axis":{"title":"hFBSs","labels":false,"ticks":false,"domain":false,"grid":false,"titleAngle":-90,"titleX":-20.6,"titleY":43.5,"titleAlign":"center","titleBaseline":"middle","titleFontSize":11,"titleFontWeight":"bold","titleColor":"#000"}}}},
     {"data":{"name":"signal"},"transform":[{"filter":"datum.gene=='TP73'&&datum.cell=='hFBSs'"}],"mark":{"type":"rect","color":"#c80f3f"},"encoding":{"x":{"field":"start","type":"quantitative","scale":{"domain":[0,7.569],"nice":false,"zero":false},"axis":null},"x2":{"field":"end"},"y":{"field":"v","type":"quantitative","scale":{"domain":[-23,43],"nice":false,"zero":false},"axis":{"title":"hFBSs","labels":false,"ticks":false,"domain":false,"grid":false,"titleAngle":-90,"titleX":-20.6,"titleY":43.5,"titleAlign":"center","titleBaseline":"middle","titleFontSize":11,"titleFontWeight":"bold","titleColor":"#000"}},"y2":{"datum":0}}},
     {"data":{"name":"peaks"},"transform":[{"filter":"datum.gene=='TP73'&&datum.cell=='hFBSs'"}],"mark":{"type":"rect","color":"#c80f3f"},"encoding":{"x":{"field":"start","type":"quantitative","scale":{"domain":[0,7.569],"nice":false,"zero":false},"axis":null},"x2":{"field":"end"},"y":{"datum":-10,"type":"quantitative","scale":{"domain":[-23,43],"nice":false,"zero":false},"axis":{"title":"hFBSs","labels":false,"ticks":false,"domain":false,"grid":false,"titleAngle":-90,"titleX":-20.6,"titleY":43.5,"titleAlign":"center","titleBaseline":"middle","titleFontSize":11,"titleFontWeight":"bold","titleColor":"#000"}},"y2":{"datum":-12.8}}}
    ]}
   ],"spacing":0,"bounds":"flush"},
   {"vconcat":[
    {"width":165.5,"height":45,"layer":[
     {"data":{"name":"genes"},"transform":[{"filter":"datum.gene=='WNT11'"}],"mark":{"type":"rule","color":"#333","strokeWidth":1,"strokeDash":[1,2]},"encoding":{"x":{"datum":-0.599,"type":"quantitative","scale":{"domain":[0,8.47],"nice":false,"zero":false},"axis":null},"y":{"datum":3.333,"type":"quantitative","scale":{"domain":[0,3],"nice":false,"zero":false},"axis":null},"y2":{"datum":0}}},
     {"data":{"name":"genes"},"transform":[{"filter":"datum.gene=='WNT11'"}],"mark":{"type":"text","align":"left","baseline":"middle","fontWeight":"bold","fontSize":11.5,"color":"#000"},"encoding":{"x":{"datum":0,"type":"quantitative","scale":{"domain":[0,8.47],"nice":false,"zero":false},"axis":null},"y":{"datum":2.5,"type":"quantitative","scale":{"domain":[0,3],"nice":false,"zero":false},"axis":null},"text":{"field":"gene"}}},
     {"data":{"name":"genes"},"transform":[{"filter":"datum.gene=='WNT11'"}],"mark":{"type":"rule","color":"#000","strokeWidth":1.3},"encoding":{"x":{"datum":3.47,"type":"quantitative","scale":{"domain":[0,8.47],"nice":false,"zero":false},"axis":null},"x2":{"datum":8.47},"y":{"datum":1.5,"type":"quantitative","scale":{"domain":[0,3],"nice":false,"zero":false},"axis":null}}},
     {"data":{"name":"genes"},"transform":[{"filter":"datum.gene=='WNT11'"}],"mark":{"type":"text","text":"5Kb","align":"right","baseline":"alphabetic","dy":-1.5,"fontWeight":"bold","fontSize":11,"color":"#000"},"encoding":{"x":{"datum":8.47,"type":"quantitative","scale":{"domain":[0,8.47],"nice":false,"zero":false},"axis":null},"y":{"datum":1.5,"type":"quantitative","scale":{"domain":[0,3],"nice":false,"zero":false},"axis":null}}},
     {"data":{"name":"model"},"transform":[{"filter":"datum.gene=='WNT11'&&datum.feature=='intron'"}],"mark":{"type":"rule","color":"#333","strokeWidth":1},"encoding":{"x":{"field":"start","type":"quantitative","scale":{"domain":[0,8.47],"nice":false,"zero":false},"axis":null},"x2":{"field":"end"},"y":{"datum":0.5,"type":"quantitative","scale":{"domain":[0,3],"nice":false,"zero":false},"axis":null}}},
     {"data":{"name":"model"},"transform":[{"filter":"datum.gene=='WNT11'&&datum.feature=='exon'"}],"mark":{"type":"rect","color":"#000"},"encoding":{"x":{"field":"start","type":"quantitative","scale":{"domain":[0,8.47],"nice":false,"zero":false},"axis":null},"x2":{"field":"end"},"y":{"datum":0.14,"type":"quantitative","scale":{"domain":[0,3],"nice":false,"zero":false},"axis":null},"y2":{"datum":0.86}}},
     {"data":{"name":"arrows"},"transform":[{"filter":"datum.gene=='WNT11'"}],"mark":{"type":"point","filled":false,"strokeWidth":1,"size":30,"color":"#5a5ad2","opacity":1},"encoding":{"x":{"field":"pos","type":"quantitative","scale":{"domain":[0,8.47],"nice":false,"zero":false},"axis":null},"y":{"datum":0.5,"type":"quantitative","scale":{"domain":[0,3],"nice":false,"zero":false},"axis":null},"shape":{"field":"strand","type":"nominal","scale":{"domain":["-","+"],"range":["M0.5,-1L-0.5,0L0.5,1","M-0.5,-1L0.5,0L-0.5,1"]},"legend":null}}}
    ]},
    {"width":165.5,"height":44.5,"layer":[
     {"data":{"name":"genes"},"transform":[{"filter":"datum.gene=='WNT11'"}],"mark":{"type":"rule","color":"#333","strokeWidth":1,"strokeDash":[1,2]},"encoding":{"x":{"datum":-0.599,"type":"quantitative","scale":{"domain":[0,8.47],"nice":false,"zero":false},"axis":null}}},
     {"data":{"name":"genes"},"transform":[{"filter":"datum.gene=='WNT11'"}],"mark":{"type":"rule","color":"#c8c8d2","strokeWidth":1},"encoding":{"y":{"datum":0,"type":"quantitative","scale":{"domain":[-14.5,30],"nice":false,"zero":false},"axis":null}}},
     {"data":{"name":"signal"},"transform":[{"filter":"datum.gene=='WNT11'&&datum.cell=='hESCs'"}],"mark":{"type":"rect","color":"#1414a0"},"encoding":{"x":{"field":"start","type":"quantitative","scale":{"domain":[0,8.47],"nice":false,"zero":false},"axis":null},"x2":{"field":"end"},"y":{"field":"v","type":"quantitative","scale":{"domain":[-14.5,30],"nice":false,"zero":false},"axis":null},"y2":{"datum":0}}}
    ]},
    {"width":165.5,"height":66,"layer":[
     {"data":{"name":"genes"},"transform":[{"filter":"datum.gene=='WNT11'"}],"mark":{"type":"rule","color":"#333","strokeWidth":1,"strokeDash":[1,2]},"encoding":{"x":{"datum":-0.599,"type":"quantitative","scale":{"domain":[0,8.47],"nice":false,"zero":false},"axis":null},"y":{"datum":43,"type":"quantitative","scale":{"domain":[-23,43],"nice":false,"zero":false},"axis":null},"y2":{"datum":-11.5}}},
     {"data":{"name":"genes"},"transform":[{"filter":"datum.gene=='WNT11'"}],"mark":{"type":"rule","color":"#c8c8d2","strokeWidth":1},"encoding":{"y":{"datum":0,"type":"quantitative","scale":{"domain":[-23,43],"nice":false,"zero":false},"axis":null}}},
     {"data":{"name":"signal"},"transform":[{"filter":"datum.gene=='WNT11'&&datum.cell=='hFBSs'"}],"mark":{"type":"rect","color":"#c80f3f"},"encoding":{"x":{"field":"start","type":"quantitative","scale":{"domain":[0,8.47],"nice":false,"zero":false},"axis":null},"x2":{"field":"end"},"y":{"field":"v","type":"quantitative","scale":{"domain":[-23,43],"nice":false,"zero":false},"axis":null},"y2":{"datum":0}}},
     {"data":{"name":"peaks"},"transform":[{"filter":"datum.gene=='WNT11'&&datum.cell=='hFBSs'"}],"mark":{"type":"rect","color":"#c80f3f"},"encoding":{"x":{"field":"start","type":"quantitative","scale":{"domain":[0,8.47],"nice":false,"zero":false},"axis":null},"x2":{"field":"end"},"y":{"datum":-10,"type":"quantitative","scale":{"domain":[-23,43],"nice":false,"zero":false},"axis":null},"y2":{"datum":-12.8}}}
    ]}
   ],"spacing":0,"bounds":"flush"}
  ],"spacing":182.7,"bounds":"flush"},
  {"hconcat":[
   {"vconcat":[
    {"width":165,"height":53,"layer":[
     {"data":{"name":"genes"},"transform":[{"filter":"datum.gene=='TUSC5'"}],"mark":{"type":"text","align":"left","baseline":"middle","fontWeight":"bold","fontSize":11.5,"color":"#000"},"encoding":{"x":{"datum":0,"type":"quantitative","scale":{"domain":[0,10.024],"nice":false,"zero":false},"axis":null},"y":{"datum":2.5,"type":"quantitative","scale":{"domain":[0,3.5333],"nice":false,"zero":false},"axis":null},"text":{"field":"gene"}}},
     {"data":{"name":"genes"},"transform":[{"filter":"datum.gene=='TUSC5'"}],"mark":{"type":"rule","color":"#000","strokeWidth":1.3},"encoding":{"x":{"datum":5.024,"type":"quantitative","scale":{"domain":[0,10.024],"nice":false,"zero":false},"axis":null},"x2":{"datum":10.024},"y":{"datum":1.5,"type":"quantitative","scale":{"domain":[0,3.5333],"nice":false,"zero":false},"axis":null}}},
     {"data":{"name":"genes"},"transform":[{"filter":"datum.gene=='TUSC5'"}],"mark":{"type":"text","text":"5Kb","align":"right","baseline":"alphabetic","dy":-1.5,"fontWeight":"bold","fontSize":11,"color":"#000"},"encoding":{"x":{"datum":10.024,"type":"quantitative","scale":{"domain":[0,10.024],"nice":false,"zero":false},"axis":null},"y":{"datum":1.5,"type":"quantitative","scale":{"domain":[0,3.5333],"nice":false,"zero":false},"axis":null}}},
     {"data":{"name":"model"},"transform":[{"filter":"datum.gene=='TUSC5'&&datum.feature=='intron'"}],"mark":{"type":"rule","color":"#333","strokeWidth":1},"encoding":{"x":{"field":"start","type":"quantitative","scale":{"domain":[0,10.024],"nice":false,"zero":false},"axis":null},"x2":{"field":"end"},"y":{"datum":0.5,"type":"quantitative","scale":{"domain":[0,3.5333],"nice":false,"zero":false},"axis":null}}},
     {"data":{"name":"model"},"transform":[{"filter":"datum.gene=='TUSC5'&&datum.feature=='exon'"}],"mark":{"type":"rect","color":"#000"},"encoding":{"x":{"field":"start","type":"quantitative","scale":{"domain":[0,10.024],"nice":false,"zero":false},"axis":null},"x2":{"field":"end"},"y":{"datum":0.14,"type":"quantitative","scale":{"domain":[0,3.5333],"nice":false,"zero":false},"axis":null},"y2":{"datum":0.86}}},
     {"data":{"name":"arrows"},"transform":[{"filter":"datum.gene=='TUSC5'"}],"mark":{"type":"point","filled":false,"strokeWidth":1,"size":30,"color":"#5a5ad2","opacity":1},"encoding":{"x":{"field":"pos","type":"quantitative","scale":{"domain":[0,10.024],"nice":false,"zero":false},"axis":null},"y":{"datum":0.5,"type":"quantitative","scale":{"domain":[0,3.5333],"nice":false,"zero":false},"axis":null},"shape":{"field":"strand","type":"nominal","scale":{"domain":["-","+"],"range":["M0.5,-1L-0.5,0L0.5,1","M-0.5,-1L0.5,0L-0.5,1"]},"legend":null}}}
    ]},
    {"width":165,"height":44.5,"layer":[
     {"data":{"name":"genes"},"transform":[{"filter":"datum.gene=='TUSC5'"}],"mark":{"type":"rule","color":"#c8c8d2","strokeWidth":1},"encoding":{"y":{"datum":0,"type":"quantitative","scale":{"domain":[-14.5,30],"nice":false,"zero":false},"axis":{"title":"hESCs","labels":false,"ticks":false,"domain":false,"grid":false,"titleAngle":-90,"titleX":-20.6,"titleY":30.5,"titleAlign":"center","titleBaseline":"middle","titleFontSize":11,"titleFontWeight":"bold","titleColor":"#000"}}}},
     {"data":{"name":"signal"},"transform":[{"filter":"datum.gene=='TUSC5'&&datum.cell=='hESCs'"}],"mark":{"type":"rect","color":"#1414a0"},"encoding":{"x":{"field":"start","type":"quantitative","scale":{"domain":[0,10.024],"nice":false,"zero":false},"axis":null},"x2":{"field":"end"},"y":{"field":"v","type":"quantitative","scale":{"domain":[-14.5,30],"nice":false,"zero":false},"axis":{"title":"hESCs","labels":false,"ticks":false,"domain":false,"grid":false,"titleAngle":-90,"titleX":-20.6,"titleY":30.5,"titleAlign":"center","titleBaseline":"middle","titleFontSize":11,"titleFontWeight":"bold","titleColor":"#000"}},"y2":{"datum":0}}},
     {"data":{"name":"peaks"},"transform":[{"filter":"datum.gene=='TUSC5'&&datum.cell=='hESCs'"}],"mark":{"type":"rect","color":"#1414a0"},"encoding":{"x":{"field":"start","type":"quantitative","scale":{"domain":[0,10.024],"nice":false,"zero":false},"axis":null},"x2":{"field":"end"},"y":{"datum":-10.2,"type":"quantitative","scale":{"domain":[-14.5,30],"nice":false,"zero":false},"axis":{"title":"hESCs","labels":false,"ticks":false,"domain":false,"grid":false,"titleAngle":-90,"titleX":-20.6,"titleY":30.5,"titleAlign":"center","titleBaseline":"middle","titleFontSize":11,"titleFontWeight":"bold","titleColor":"#000"}},"y2":{"datum":-13}}}
    ]},
    {"width":165,"height":58,"layer":[
     {"data":{"name":"genes"},"transform":[{"filter":"datum.gene=='TUSC5'"}],"mark":{"type":"rule","color":"#c8c8d2","strokeWidth":1},"encoding":{"y":{"datum":0,"type":"quantitative","scale":{"domain":[-15,43],"nice":false,"zero":false},"axis":{"title":"hFBSs","labels":false,"ticks":false,"domain":false,"grid":false,"titleAngle":-90,"titleX":-20.6,"titleY":43.5,"titleAlign":"center","titleBaseline":"middle","titleFontSize":11,"titleFontWeight":"bold","titleColor":"#000"}}}},
     {"data":{"name":"signal"},"transform":[{"filter":"datum.gene=='TUSC5'&&datum.cell=='hFBSs'"}],"mark":{"type":"rect","color":"#c80f3f"},"encoding":{"x":{"field":"start","type":"quantitative","scale":{"domain":[0,10.024],"nice":false,"zero":false},"axis":null},"x2":{"field":"end"},"y":{"field":"v","type":"quantitative","scale":{"domain":[-15,43],"nice":false,"zero":false},"axis":{"title":"hFBSs","labels":false,"ticks":false,"domain":false,"grid":false,"titleAngle":-90,"titleX":-20.6,"titleY":43.5,"titleAlign":"center","titleBaseline":"middle","titleFontSize":11,"titleFontWeight":"bold","titleColor":"#000"}},"y2":{"datum":0}}},
     {"data":{"name":"peaks"},"transform":[{"filter":"datum.gene=='TUSC5'&&datum.cell=='hFBSs'"}],"mark":{"type":"rect","color":"#c80f3f"},"encoding":{"x":{"field":"start","type":"quantitative","scale":{"domain":[0,10.024],"nice":false,"zero":false},"axis":null},"x2":{"field":"end"},"y":{"datum":-10,"type":"quantitative","scale":{"domain":[-15,43],"nice":false,"zero":false},"axis":{"title":"hFBSs","labels":false,"ticks":false,"domain":false,"grid":false,"titleAngle":-90,"titleX":-20.6,"titleY":43.5,"titleAlign":"center","titleBaseline":"middle","titleFontSize":11,"titleFontWeight":"bold","titleColor":"#000"}},"y2":{"datum":-12.8}}}
    ]}
   ],"spacing":0,"bounds":"flush"},
   {"vconcat":[
    {"width":165.5,"height":53,"layer":[
     {"data":{"name":"genes"},"transform":[{"filter":"datum.gene=='AOX1'"}],"mark":{"type":"rule","color":"#333","strokeWidth":1,"strokeDash":[1,2]},"encoding":{"x":{"datum":-0.62,"type":"quantitative","scale":{"domain":[0,8.775],"nice":false,"zero":false},"axis":null},"y":{"datum":4.6,"type":"quantitative","scale":{"domain":[0,3.5333],"nice":false,"zero":false},"axis":null},"y2":{"datum":0}}},
     {"data":{"name":"genes"},"transform":[{"filter":"datum.gene=='AOX1'"}],"mark":{"type":"text","align":"left","baseline":"middle","fontWeight":"bold","fontSize":11.5,"color":"#000"},"encoding":{"x":{"datum":0,"type":"quantitative","scale":{"domain":[0,8.775],"nice":false,"zero":false},"axis":null},"y":{"datum":2.5,"type":"quantitative","scale":{"domain":[0,3.5333],"nice":false,"zero":false},"axis":null},"text":{"field":"gene"}}},
     {"data":{"name":"genes"},"transform":[{"filter":"datum.gene=='AOX1'"}],"mark":{"type":"rule","color":"#000","strokeWidth":1.3},"encoding":{"x":{"datum":3.775,"type":"quantitative","scale":{"domain":[0,8.775],"nice":false,"zero":false},"axis":null},"x2":{"datum":8.775},"y":{"datum":1.5,"type":"quantitative","scale":{"domain":[0,3.5333],"nice":false,"zero":false},"axis":null}}},
     {"data":{"name":"genes"},"transform":[{"filter":"datum.gene=='AOX1'"}],"mark":{"type":"text","text":"5Kb","align":"right","baseline":"alphabetic","dy":-1.5,"fontWeight":"bold","fontSize":11,"color":"#000"},"encoding":{"x":{"datum":8.775,"type":"quantitative","scale":{"domain":[0,8.775],"nice":false,"zero":false},"axis":null},"y":{"datum":1.5,"type":"quantitative","scale":{"domain":[0,3.5333],"nice":false,"zero":false},"axis":null}}},
     {"data":{"name":"model"},"transform":[{"filter":"datum.gene=='AOX1'&&datum.feature=='intron'"}],"mark":{"type":"rule","color":"#333","strokeWidth":1},"encoding":{"x":{"field":"start","type":"quantitative","scale":{"domain":[0,8.775],"nice":false,"zero":false},"axis":null},"x2":{"field":"end"},"y":{"datum":0.5,"type":"quantitative","scale":{"domain":[0,3.5333],"nice":false,"zero":false},"axis":null}}},
     {"data":{"name":"model"},"transform":[{"filter":"datum.gene=='AOX1'&&datum.feature=='exon'"}],"mark":{"type":"rect","color":"#000"},"encoding":{"x":{"field":"start","type":"quantitative","scale":{"domain":[0,8.775],"nice":false,"zero":false},"axis":null},"x2":{"field":"end"},"y":{"datum":0.14,"type":"quantitative","scale":{"domain":[0,3.5333],"nice":false,"zero":false},"axis":null},"y2":{"datum":0.86}}},
     {"data":{"name":"arrows"},"transform":[{"filter":"datum.gene=='AOX1'"}],"mark":{"type":"point","filled":false,"strokeWidth":1,"size":30,"color":"#5a5ad2","opacity":1},"encoding":{"x":{"field":"pos","type":"quantitative","scale":{"domain":[0,8.775],"nice":false,"zero":false},"axis":null},"y":{"datum":0.5,"type":"quantitative","scale":{"domain":[0,3.5333],"nice":false,"zero":false},"axis":null},"shape":{"field":"strand","type":"nominal","scale":{"domain":["-","+"],"range":["M0.5,-1L-0.5,0L0.5,1","M-0.5,-1L0.5,0L-0.5,1"]},"legend":null}}}
    ]},
    {"width":165.5,"height":44.5,"layer":[
     {"data":{"name":"genes"},"transform":[{"filter":"datum.gene=='AOX1'"}],"mark":{"type":"rule","color":"#333","strokeWidth":1,"strokeDash":[1,2]},"encoding":{"x":{"datum":-0.62,"type":"quantitative","scale":{"domain":[0,8.775],"nice":false,"zero":false},"axis":null}}},
     {"data":{"name":"genes"},"transform":[{"filter":"datum.gene=='AOX1'"}],"mark":{"type":"rule","color":"#c8c8d2","strokeWidth":1},"encoding":{"y":{"datum":0,"type":"quantitative","scale":{"domain":[-14.5,30],"nice":false,"zero":false},"axis":null}}},
     {"data":{"name":"signal"},"transform":[{"filter":"datum.gene=='AOX1'&&datum.cell=='hESCs'"}],"mark":{"type":"rect","color":"#1414a0"},"encoding":{"x":{"field":"start","type":"quantitative","scale":{"domain":[0,8.775],"nice":false,"zero":false},"axis":null},"x2":{"field":"end"},"y":{"field":"v","type":"quantitative","scale":{"domain":[-14.5,30],"nice":false,"zero":false},"axis":null},"y2":{"datum":0}}},
     {"data":{"name":"peaks"},"transform":[{"filter":"datum.gene=='AOX1'&&datum.cell=='hESCs'"}],"mark":{"type":"rect","color":"#1414a0"},"encoding":{"x":{"field":"start","type":"quantitative","scale":{"domain":[0,8.775],"nice":false,"zero":false},"axis":null},"x2":{"field":"end"},"y":{"datum":-10.2,"type":"quantitative","scale":{"domain":[-14.5,30],"nice":false,"zero":false},"axis":null},"y2":{"datum":-13}}}
    ]},
    {"width":165.5,"height":58,"layer":[
     {"data":{"name":"genes"},"transform":[{"filter":"datum.gene=='AOX1'"}],"mark":{"type":"rule","color":"#333","strokeWidth":1,"strokeDash":[1,2]},"encoding":{"x":{"datum":-0.62,"type":"quantitative","scale":{"domain":[0,8.775],"nice":false,"zero":false},"axis":null}}},
     {"data":{"name":"genes"},"transform":[{"filter":"datum.gene=='AOX1'"}],"mark":{"type":"rule","color":"#c8c8d2","strokeWidth":1},"encoding":{"y":{"datum":0,"type":"quantitative","scale":{"domain":[-15,43],"nice":false,"zero":false},"axis":null}}},
     {"data":{"name":"signal"},"transform":[{"filter":"datum.gene=='AOX1'&&datum.cell=='hFBSs'"}],"mark":{"type":"rect","color":"#c80f3f"},"encoding":{"x":{"field":"start","type":"quantitative","scale":{"domain":[0,8.775],"nice":false,"zero":false},"axis":null},"x2":{"field":"end"},"y":{"field":"v","type":"quantitative","scale":{"domain":[-15,43],"nice":false,"zero":false},"axis":null},"y2":{"datum":0}}},
     {"data":{"name":"peaks"},"transform":[{"filter":"datum.gene=='AOX1'&&datum.cell=='hFBSs'"}],"mark":{"type":"rect","color":"#c80f3f"},"encoding":{"x":{"field":"start","type":"quantitative","scale":{"domain":[0,8.775],"nice":false,"zero":false},"axis":null},"x2":{"field":"end"},"y":{"datum":-10,"type":"quantitative","scale":{"domain":[-15,43],"nice":false,"zero":false},"axis":null},"y2":{"datum":-12.8}}}
    ]}
   ],"spacing":0,"bounds":"flush"}
  ],"spacing":182.7,"bounds":"flush"}
 ],"spacing":180,"bounds":"flush"}
],"spacing":241,"bounds":"flush","resolve":{"scale":{"color":"independent"}}},
{"vconcat":[
 {"width":280,"height":283,
  "layer":[
   {"data":{"name":"panels"},"transform":[{"filter":"datum.panel=='B'"}],"mark":{"type":"text","align":"left","baseline":"alphabetic","fontSize":19,"fontWeight":"bold","color":"#000"},"encoding":{"x":{"datum":12,"type":"quantitative","scale":{"domain":[0,280],"nice":false,"zero":false},"axis":null},"y":{"datum":117.5,"type":"quantitative","scale":{"domain":[0,283],"nice":false,"zero":false,"reverse":true},"axis":null},"text":{"field":"panel"}}},
   {"data":{"name":"vsets"},"transform":[{"filter":"datum.panel=='B'"}],"mark":{"type":"point","shape":"circle","filled":false,"strokeWidth":2.5,"opacity":1},"encoding":{"x":{"field":"cx","type":"quantitative","scale":{"domain":[0,280],"nice":false,"zero":false},"axis":null},"y":{"field":"cy","type":"quantitative","scale":{"domain":[0,283],"nice":false,"zero":false,"reverse":true},"axis":null},"size":{"field":"n","type":"quantitative","scale":{"domain":[1302,2474],"range":[5506,11449],"zero":false},"legend":null},"color":{"field":"set","type":"nominal","scale":{"domain":["hESCs","hFBSs","mESCs","MEFs"],"range":["#2d4b73","#c0222c","#8c8c8c","#3c97ab"]},"legend":null}}},
   {"data":{"name":"vsets"},"transform":[{"filter":"datum.panel=='B'"}],"mark":{"type":"text","fontWeight":"bold","fontSize":11.5,"dy":-6.7,"color":"#000"},"encoding":{"x":{"field":"lx","type":"quantitative","scale":{"domain":[0,280],"nice":false,"zero":false},"axis":null},"y":{"field":"ly","type":"quantitative","scale":{"domain":[0,283],"nice":false,"zero":false,"reverse":true},"axis":null},"text":{"field":"set"}}},
   {"data":{"name":"vsets"},"transform":[{"filter":"datum.panel=='B'"}],"mark":{"type":"text","fontWeight":"bold","fontSize":11.5,"dy":6.7,"color":"#000"},"encoding":{"x":{"field":"lx","type":"quantitative","scale":{"domain":[0,280],"nice":false,"zero":false},"axis":null},"y":{"field":"ly","type":"quantitative","scale":{"domain":[0,283],"nice":false,"zero":false,"reverse":true},"axis":null},"text":{"field":"n"}}},
   {"data":{"name":"vregions"},"transform":[{"filter":"datum.panel=='B'"}],"mark":{"type":"text","fontWeight":"bold","fontSize":11.5,"color":"#000"},"encoding":{"x":{"field":"x","type":"quantitative","scale":{"domain":[0,280],"nice":false,"zero":false},"axis":null},"y":{"field":"y","type":"quantitative","scale":{"domain":[0,283],"nice":false,"zero":false,"reverse":true},"axis":null},"text":{"field":"n"}}}
  ]},
 {"width":280,"height":250,
  "layer":[
   {"data":{"name":"panels"},"transform":[{"filter":"datum.panel=='D'"}],"mark":{"type":"text","align":"left","baseline":"alphabetic","fontSize":19,"fontWeight":"bold","color":"#000"},"encoding":{"x":{"datum":12,"type":"quantitative","scale":{"domain":[0,280],"nice":false,"zero":false},"axis":null},"y":{"datum":55,"type":"quantitative","scale":{"domain":[0,250],"nice":false,"zero":false,"reverse":true},"axis":null},"text":{"field":"panel"}}},
   {"data":{"name":"vsets"},"transform":[{"filter":"datum.panel=='D'"}],"mark":{"type":"point","shape":"circle","filled":false,"strokeWidth":2.5,"opacity":1},"encoding":{"x":{"field":"cx","type":"quantitative","scale":{"domain":[0,280],"nice":false,"zero":false},"axis":null},"y":{"field":"cy","type":"quantitative","scale":{"domain":[0,250],"nice":false,"zero":false,"reverse":true},"axis":null},"size":{"field":"n","type":"quantitative","scale":{"domain":[2474,6445],"range":[11449,31862],"zero":false},"legend":null},"color":{"field":"set","type":"nominal","scale":{"domain":["hESCs","hFBSs","mESCs","MEFs"],"range":["#2d4b73","#c0222c","#8c8c8c","#3c97ab"]},"legend":null}}},
   {"data":{"name":"vsets"},"transform":[{"filter":"datum.panel=='D'"}],"mark":{"type":"text","fontWeight":"bold","fontSize":11.5,"dy":-6.7,"color":"#000"},"encoding":{"x":{"field":"lx","type":"quantitative","scale":{"domain":[0,280],"nice":false,"zero":false},"axis":null},"y":{"field":"ly","type":"quantitative","scale":{"domain":[0,250],"nice":false,"zero":false,"reverse":true},"axis":null},"text":{"field":"set"}}},
   {"data":{"name":"vsets"},"transform":[{"filter":"datum.panel=='D'"}],"mark":{"type":"text","fontWeight":"bold","fontSize":11.5,"dy":6.7,"color":"#000"},"encoding":{"x":{"field":"lx","type":"quantitative","scale":{"domain":[0,280],"nice":false,"zero":false},"axis":null},"y":{"field":"ly","type":"quantitative","scale":{"domain":[0,250],"nice":false,"zero":false,"reverse":true},"axis":null},"text":{"field":"n"}}},
   {"data":{"name":"vregions"},"transform":[{"filter":"datum.panel=='D'"}],"mark":{"type":"text","fontWeight":"bold","fontSize":11.5,"color":"#000"},"encoding":{"x":{"field":"x","type":"quantitative","scale":{"domain":[0,280],"nice":false,"zero":false},"axis":null},"y":{"field":"y","type":"quantitative","scale":{"domain":[0,250],"nice":false,"zero":false,"reverse":true},"axis":null},"text":{"field":"n"}}}
  ]},
 {"width":280,"height":231,
  "layer":[
   {"data":{"name":"panels"},"transform":[{"filter":"datum.panel=='E'"}],"mark":{"type":"text","align":"left","baseline":"alphabetic","fontSize":19,"fontWeight":"bold","color":"#000"},"encoding":{"x":{"datum":12,"type":"quantitative","scale":{"domain":[0,280],"nice":false,"zero":false},"axis":null},"y":{"datum":51.7,"type":"quantitative","scale":{"domain":[0,231],"nice":false,"zero":false,"reverse":true},"axis":null},"text":{"field":"panel"}}},
   {"data":{"name":"vsets"},"transform":[{"filter":"datum.panel=='E'"}],"mark":{"type":"point","shape":"circle","filled":false,"strokeWidth":2.5,"opacity":1},"encoding":{"x":{"field":"cx","type":"quantitative","scale":{"domain":[0,280],"nice":false,"zero":false},"axis":null},"y":{"field":"cy","type":"quantitative","scale":{"domain":[0,231],"nice":false,"zero":false,"reverse":true},"axis":null},"size":{"field":"n","type":"quantitative","scale":{"domain":[1302,3800],"range":[6006,20306],"zero":false},"legend":null},"color":{"field":"set","type":"nominal","scale":{"domain":["hESCs","hFBSs","mESCs","MEFs"],"range":["#2d4b73","#c0222c","#8c8c8c","#3c97ab"]},"legend":null}}},
   {"data":{"name":"vsets"},"transform":[{"filter":"datum.panel=='E'"}],"mark":{"type":"text","fontWeight":"bold","fontSize":11.5,"dy":-6.7,"color":"#000"},"encoding":{"x":{"field":"lx","type":"quantitative","scale":{"domain":[0,280],"nice":false,"zero":false},"axis":null},"y":{"field":"ly","type":"quantitative","scale":{"domain":[0,231],"nice":false,"zero":false,"reverse":true},"axis":null},"text":{"field":"set"}}},
   {"data":{"name":"vsets"},"transform":[{"filter":"datum.panel=='E'"}],"mark":{"type":"text","fontWeight":"bold","fontSize":11.5,"dy":6.7,"color":"#000"},"encoding":{"x":{"field":"lx","type":"quantitative","scale":{"domain":[0,280],"nice":false,"zero":false},"axis":null},"y":{"field":"ly","type":"quantitative","scale":{"domain":[0,231],"nice":false,"zero":false,"reverse":true},"axis":null},"text":{"field":"n"}}},
   {"data":{"name":"vregions"},"transform":[{"filter":"datum.panel=='E'"}],"mark":{"type":"text","fontWeight":"bold","fontSize":11.5,"color":"#000"},"encoding":{"x":{"field":"x","type":"quantitative","scale":{"domain":[0,280],"nice":false,"zero":false},"axis":null},"y":{"field":"y","type":"quantitative","scale":{"domain":[0,231],"nice":false,"zero":false,"reverse":true},"axis":null},"text":{"field":"n"}}}
  ]}
],"spacing":0,"bounds":"flush","resolve":{"scale":{"size":"independent"}}}
],
"spacing":362.7,"bounds":"flush",
"resolve":{"scale":{"color":"independent","size":"independent","shape":"independent"}}
}
